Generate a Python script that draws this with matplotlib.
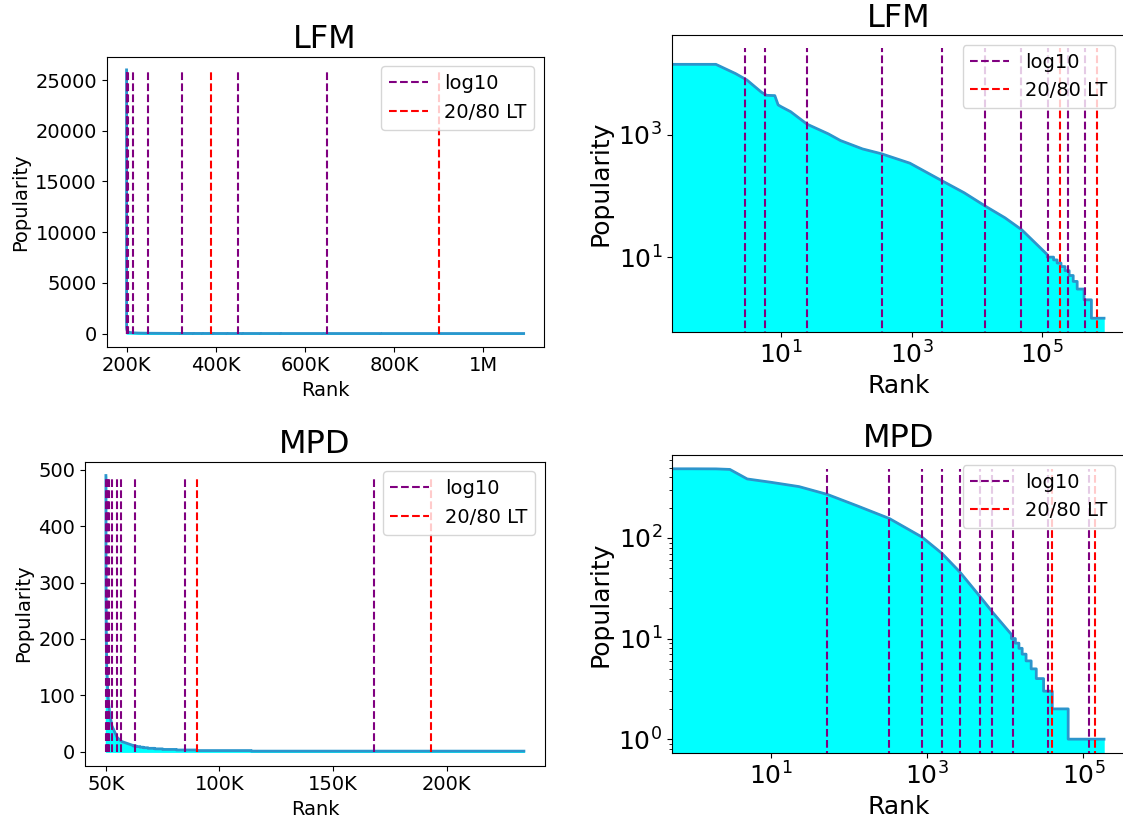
import numpy as np
import matplotlib
matplotlib.use("Agg")
import matplotlib.pyplot as plt
from matplotlib.ticker import FuncFormatter, NullLocator, FixedLocator

# ---------------- data ----------------
# LFM popularity curve (rank -> popularity), smooth head
lfm_head_rank = [0, 1, 2, 3, 4, 5, 6, 8, 9, 10, 14, 25, 53, 81, 177, 349, 940,
                 2940, 6400, 13600, 27000, 48800, 120000]
lfm_head_pop = [26000, 14300, 10100, 7900, 6100, 5000, 4450, 4400, 3100, 2900,
                2400, 1500, 1040, 810, 590, 490, 345, 177, 113, 68, 44, 28, 11]
# LFM integer tail: popularity level and last rank with that level
lfm_tail_level = [10, 9, 8, 7, 6, 5, 4, 3, 2, 1]
lfm_tail_end = [150000, 170000, 195000, 225000, 260000, 300000, 345000,
                440000, 570000, 890000]
lfm_log10 = [2.75, 5.6, 25, 350, 2900, 13500, 48000, 125000, 250000, 450000]
lfm_lt = [190000, 700000]

# MPD popularity curve
mpd_head_rank = [0, 1, 2, 3, 5, 10, 23, 53, 127, 330, 863, 1560, 2620, 5000,
                 7000, 12000]
mpd_head_pop = [490, 487, 486, 480, 386, 358, 324, 271, 209, 156, 102, 70, 46,
                25, 18, 11]
mpd_tail_level = [10, 9, 8, 7, 6, 5, 4, 3, 2, 1]
mpd_tail_end = [13500, 15000, 16500, 18500, 21500, 25000, 31000, 40000,
                64000, 184000]
mpd_log10 = [53, 330, 860, 1560, 2620, 4800, 6800, 12700, 35000, 118000]
mpd_lt = [40000, 143000]

LFM_OFFSET = 200000
MPD_OFFSET = 50000


def build(head_r, head_p, lev, ends):
    r = list(head_r)
    p = list(head_p)
    for k, (lv, e) in enumerate(zip(lev, ends)):
        start = r[-1]
        r += [start, e]
        p += [lv, lv]
    return np.array(r, float), np.array(p, float)


lfm_r, lfm_p = build(lfm_head_rank, lfm_head_pop, lfm_tail_level, lfm_tail_end)
mpd_r, mpd_p = build(mpd_head_rank, mpd_head_pop, mpd_tail_level, mpd_tail_end)

LINE_C = '#2c95cc'
FILL_C = 'cyan'

W, H = 1123, 824
fig = plt.figure(figsize=(W / 100, H / 100), dpi=100)


def pos(l, r, t, b):
    return [l / W, 1 - b / H, (r - l) / W, (b - t) / H]


ax_tl = fig.add_axes(pos(106.7, 543.5, 56.7, 346.7))
ax_tr = fig.add_axes(pos(672, 1124.6, 35, 331.7))
ax_bl = fig.add_axes(pos(85, 544.8, 461.7, 765.5))
ax_br = fig.add_axes(pos(672, 1124.6, 455, 752.7))


def kfmt(x, _):
    if x >= 1e6:
        v = x / 1e6
        return f"{v:g}M"
    return f"{x / 1000:g}K"


def linear_panel(ax, r, p, off, lg, lt, title, xticks):
    x = r + off
    ax.fill_between(x, p, color=FILL_C)
    ax.plot(x, p, color=LINE_C, lw=2)
    ymax = p.max()
    ax.vlines(np.array(lg) + off, 0, ymax, colors='purple', linestyles='dashed',
              label='log10')
    ax.vlines(np.array(lt) + off, 0, ymax, colors='red', linestyles='dashed',
              label='20/80 LT')
    ax.set_xticks(xticks)
    ax.xaxis.set_major_formatter(FuncFormatter(kfmt))
    ax.tick_params(labelsize=14)
    ax.set_xlabel('Rank', fontsize=14)
    ax.set_ylabel('Popularity', fontsize=14)
    ax.set_title(title, fontsize=23)
    ax.legend(loc='upper right', fontsize=14)


def log_panel(ax, r, p, lg, lt, title, yticks, yminor):
    ax.set_xscale('log')
    ax.set_yscale('log')
    ax.fill_between(r, p, color=FILL_C)
    ax.plot(r, p, color=LINE_C, lw=2)
    ymax = p.max()
    ax.vlines(lg, 0, ymax, colors='purple', linestyles='dashed', label='log10')
    ax.vlines(lt, 0, ymax, colors='red', linestyles='dashed', label='20/80 LT')
    ax.xaxis.set_major_locator(FixedLocator([10, 1e3, 1e5]))
    ax.xaxis.set_minor_locator(NullLocator())
    ax.yaxis.set_major_locator(FixedLocator(yticks))
    if not yminor:
        ax.yaxis.set_minor_locator(NullLocator())
    ax.tick_params(labelsize=18)
    ax.set_xlabel('Rank', fontsize=18)
    ax.set_ylabel('Popularity', fontsize=18)
    ax.set_title(title, fontsize=23)
    ax.legend(loc='upper right', fontsize=14)


linear_panel(ax_tl, lfm_r, lfm_p, LFM_OFFSET, lfm_log10, lfm_lt, 'LFM',
             [200000, 400000, 600000, 800000, 1000000])
linear_panel(ax_bl, mpd_r, mpd_p, MPD_OFFSET, mpd_log10, mpd_lt, 'MPD',
             [50000, 100000, 150000, 200000])
log_panel(ax_tr, lfm_r, lfm_p, lfm_log10, lfm_lt, 'LFM', [10, 1000], False)
log_panel(ax_br, mpd_r, mpd_p, mpd_log10, mpd_lt, 'MPD', [1, 10, 100], True)

fig.savefig('out.png', dpi=100)
